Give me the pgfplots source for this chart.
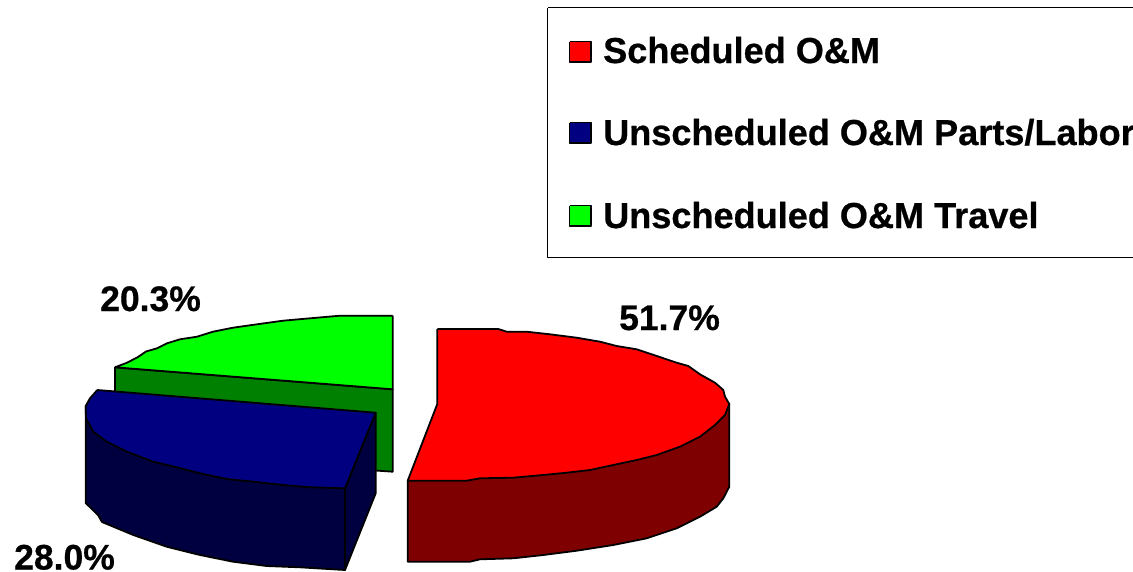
\documentclass[border=0pt]{standalone}
\usepackage{pgfplots}
\pgfplotsset{compat=1.18}
\usepackage{fontspec}
\setmainfont[BoldFeatures={FakeBold=0.6}]{Liberation Sans}
\definecolor{rtop}{HTML}{FF0000}\definecolor{rside}{HTML}{7F0000}
\definecolor{btop}{HTML}{000080}\definecolor{bside}{HTML}{000040}
\definecolor{gtop}{HTML}{00FF00}\definecolor{gside}{HTML}{008000}
\newcommand{\lab}{\fontsize{35.5}{40}\selectfont\bfseries}
\newcommand{\leg}{\fontsize{36.1}{40}\selectfont\bfseries}
\begin{document}
\begin{tikzpicture}[x=1pt,y=1pt]
\clip (0,0) rectangle (1133pt,571pt);
\begin{axis}[
  at={(0,0)},anchor=south west,
  scale only axis,width=1133pt,height=571pt,
  xmin=0,xmax=1133,ymin=0,ymax=571,y dir=reverse,
  hide axis,clip=true,
  every axis plot/.append style={draw=black,line width=1.8pt,line join=round,mark=none,no markers,sharp plot},
]
% legend frame
\addplot[draw=black,line width=1pt,fill=white] coordinates {(547.5,7.5)(1140,7.5)(1140,257.5)(547.5,257.5)(547.5,7.5)};
% legend swatches
\addplot[fill=rtop] coordinates {(569.5,41.5)(591,41.5)(591,62)(569.5,62)(569.5,41.5)};
\addplot[fill=btop] coordinates {(569.5,122.5)(591,122.5)(591,143)(569.5,143)(569.5,122.5)};
\addplot[fill=gtop] coordinates {(569.5,205.5)(591,205.5)(591,226)(569.5,226)(569.5,205.5)};
% green slice side and top
\addplot[fill=gside] coordinates {(115,367.3)(392.7,389.3)(392.7,471.7)(340,468)(115,420)(115,367.3)};
\addplot[fill=gtop] coordinates {(392.7,315.7)(340,315.7)(310,318.3)(283,320.7)(257,324.3)(233,327.7)(213,331.7)(197,336.7)(180,339.3)(167,343.3)(157,348.3)(146,351.5)(138,357)(127,362.7)(115,367.3)(392.7,389.3)(392.7,315.7)};
% blue slice
\addplot[fill=bside] coordinates {(345,488.3)(375.7,412.7)(375.7,493.3)(345,570)(345,488.3)};
\addplot[fill=bside] coordinates {(85.7,406)(85.7,503)(98,515)(102,522)(133.3,535)(166.7,546.7)(200,555)(233,561.7)(266.7,566)(300,567.3)(345,570)(345,488.3)(85.7,406)};
\addplot[fill=btop] coordinates {(97.3,390)(375.7,412.7)(345,488.3)(310,487.3)(283.3,485)(253.3,481.7)(226.7,479)(200,473.3)(176.7,467.3)(153.3,461.7)(126.7,451.7)(106.7,441.7)(93.3,431.7)(86,418.3)(85.7,406)(90,398.3)(97.3,390)};
% red slice
\addplot[fill=rside] coordinates {(407.7,480.7)(407.7,561.7)(470,561.7)(480,559.3)(513.3,558.3)(543.3,555)(576.7,550.7)(613.3,545)(646.7,538.3)(676.7,528.3)(700,516.7)(716.7,506.7)(723.3,498.3)(729.3,486.7)(729.3,404)(407.7,480.7)};
\addplot[fill=rtop] coordinates {(437.3,329)(498.3,329)(506.7,331.7)(526.7,331.7)(550,334.3)(576.7,337.7)(600,341.7)(616.7,346)(636.7,349.3)(656.7,356)(676.7,362.7)(688.3,366)(700,374.3)(715,382.7)(723.3,390)(725,396.7)(729.3,404)(725,415)(715,425)(700,436.7)(680,446.7)(656.7,455)(636.7,460)(613.3,465)(590,470)(566.7,472.7)(543.3,475)(513.3,477.7)(480,478.3)(466.7,480.7)(407.7,480.7)(437.3,404)(437.3,329)};
% text
\node[anchor=base west,inner sep=0pt,black] at (axis cs:603,63) {\leg Scheduled O\&M};
\node[anchor=base west,inner sep=0pt,black] at (axis cs:603,145) {\leg Unscheduled O\&M Parts/Labor};
\node[anchor=base west,inner sep=0pt,black] at (axis cs:603,228) {\leg Unscheduled O\&M Travel};
\node[anchor=base west,inner sep=0pt,black] at (axis cs:100,311) {\lab 20.3\%};
\node[anchor=base west,inner sep=0pt,black] at (axis cs:619,330) {\lab 51.7\%};
\node[anchor=base west,inner sep=0pt,black] at (axis cs:14,569.5) {\lab 28.0\%};
\end{axis}
\end{tikzpicture}
\end{document}
